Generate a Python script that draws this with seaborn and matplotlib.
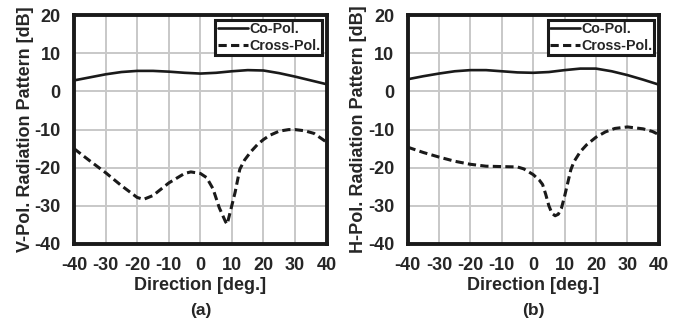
import matplotlib
matplotlib.use("Agg")
import matplotlib.pyplot as plt
import seaborn as sns

# ---- data ----
co_x = [-40, -35, -30, -25, -20, -15, -10, -5, 0, 5, 10, 15, 20, 25, 30, 35, 40]
co_a = [2.9, 3.7, 4.5, 5.1, 5.4, 5.4, 5.2, 4.9, 4.7, 4.9, 5.3, 5.6, 5.5, 4.8, 3.9, 2.9, 1.9]
co_b = [3.2, 4.0, 4.7, 5.3, 5.6, 5.6, 5.3, 5.0, 4.9, 5.1, 5.6, 6.0, 6.0, 5.3, 4.3, 3.1, 1.8]

xa_x = [-40, -35, -30, -25, -20, -18, -15, -10, -5, -3, 0, 2, 4, 6, 8, 8.5, 9.5,
        11, 12.5, 14, 16, 18, 20, 22, 25, 28, 30, 33, 36, 40]
xa_y = [-15.0, -18.2, -21.3, -24.7, -27.8, -28.3, -27.3, -24.0, -21.5, -21.1, -21.5,
        -22.6, -25.5, -30.5, -34.2, -34.8, -31.5, -26.5, -20.4, -18.0, -15.8, -14.0,
        -12.6, -11.5, -10.4, -10.0, -10.0, -10.3, -11.0, -13.3]

xb_x = [-40, -35, -30, -25, -20, -15, -10, -5, -3, 0, 2, 3, 4, 5, 6, 7, 8, 9, 10,
        11, 12, 13, 15, 17, 20, 23, 26, 30, 35, 38, 40]
xb_y = [-14.6, -16.0, -17.2, -18.3, -19.1, -19.6, -19.7, -19.8, -20.3, -21.8, -23.3,
        -24.4, -27.0, -30.0, -32.0, -32.6, -32.2, -30.6, -27.5, -24.0, -20.5, -18.4,
        -15.8, -14.0, -12.0, -10.6, -9.7, -9.3, -9.8, -10.5, -11.3]

xticks = [-40, -30, -20, -10, 0, 10, 20, 30, 40]
yticks = [-40, -30, -20, -10, 0, 10, 20]
ylabels = ["V-Pol. Radiation Pattern [dB]", "H-Pol. Radiation Pattern [dB]"]
panel_labels = ["(a)", "(b)"]
series_names = ["Co-Pol.", "Cross-Pol."]

sns.set_style("white")
plt.rcParams["font.family"] = ["Liberation Sans", "DejaVu Sans"]
plt.rcParams["font.weight"] = "bold"

fig = plt.figure(figsize=(6.92, 3.24), dpi=100)
axes = [fig.add_axes([0.107, 0.247, 0.365, 0.706]),
        fig.add_axes([0.589, 0.247, 0.363, 0.706])]

panels = [(co_a, xa_x, xa_y), (co_b, xb_x, xb_y)]
for ax, (co, cx, cy), ylab, pl in zip(axes, panels, ylabels, panel_labels):
    sns.lineplot(x=co_x, y=co, ax=ax, color="#1a1a1a", linewidth=1.9,
                 label=series_names[0], sort=False)
    sns.lineplot(x=cx, y=cy, ax=ax, color="#1a1a1a", linewidth=2.2,
                 linestyle=(0, (2.7, 1.4)), label=series_names[1], sort=False)
    ax.set_xlim(-40, 40)
    ax.set_ylim(-40, 20)
    ax.set_xticks(xticks)
    ax.set_yticks(yticks)
    ax.set_xticklabels([str(t) for t in xticks], fontsize=13, fontweight="bold")
    ax.set_yticklabels([str(t) for t in yticks], fontsize=13, fontweight="bold")
    ax.grid(True, color="#c8c8c8", linewidth=1.4)
    ax.set_axisbelow(True)
    for s in ax.spines.values():
        s.set_visible(True)
        s.set_color("#1a1a1a")
        s.set_linewidth(2.8)
    ax.tick_params(axis="both", length=0, pad=9.5)
    ax.set_xlabel("Direction [deg.]", fontsize=13, fontweight="bold", labelpad=2)
    ax.set_ylabel(ylab, fontsize=13, fontweight="bold")
    ax.yaxis.set_label_coords(-0.16, 0.5)
    ax.text(0.5, -0.26, pl, transform=ax.transAxes, ha="center", va="top",
            fontsize=12.5, fontweight="bold")
    leg = ax.legend(loc="upper right", fontsize=10.3, frameon=True, fancybox=False,
                    handlelength=2.1, handletextpad=0.1, borderpad=0.15,
                    labelspacing=0.2, borderaxespad=0.3)
    leg.get_frame().set_edgecolor("#1a1a1a")
    leg.get_frame().set_linewidth(2.2)
    leg.get_frame().set_facecolor("white")
    leg.get_frame().set_alpha(1)
    for t in leg.get_texts():
        t.set_fontweight("bold")

fig.savefig("out.png", dpi=100)
